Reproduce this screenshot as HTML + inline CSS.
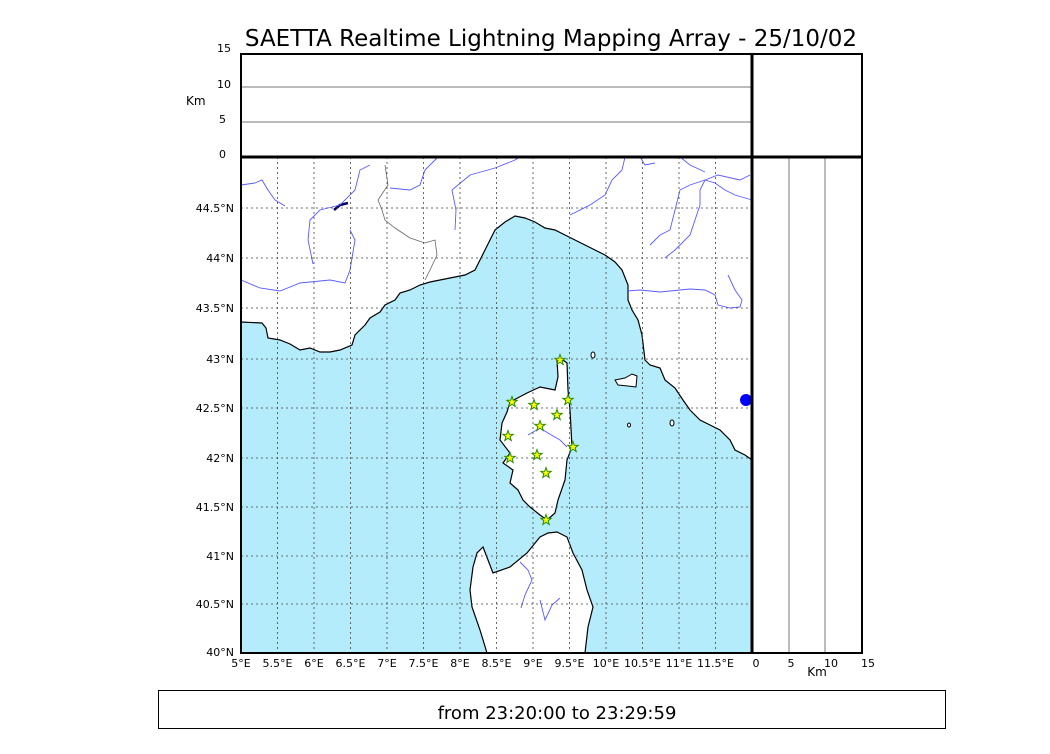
<!DOCTYPE html>
<html><head><meta charset="utf-8"><style>
body{margin:0;background:#fff;width:1050px;height:750px;overflow:hidden;font-family:"DejaVu Sans","Liberation Sans",sans-serif;}
svg text{font-family:"DejaVu Sans","Liberation Sans",sans-serif;}
</style></head><body>
<svg width="1050" height="750" viewBox="0 0 1050 750" xmlns="http://www.w3.org/2000/svg">
<rect width="1050" height="750" fill="#fff"/>
<text x="551" y="46" font-size="23" text-anchor="middle">SAETTA Realtime Lightning Mapping Array - 25/10/02</text>

<!-- top panel -->
<line x1="241" y1="87" x2="752" y2="87" stroke="#777" stroke-width="1"/>
<line x1="241" y1="122" x2="752" y2="122" stroke="#777" stroke-width="1"/>
<g font-size="11" text-anchor="end">
<text x="231" y="52">15</text><text x="231" y="88">10</text><text x="226" y="123">5</text><text x="226" y="158">0</text>
</g>
<text x="186" y="105" font-size="12">Km</text>

<!-- map -->
<rect x="241" y="157" width="511" height="496" fill="#b5ecfc"/>
<path d="M241,157 L241,322 L262,323 L266,328 L268,338 L280,340 L290,344 L300,350 L310,348 L320,352 L330,352 L340,350 L352,345 L355,335 L365,325 L370,318 L380,312 L385,305 L395,300 L400,293 L410,290 L420,285 L430,282 L440,280 L455,277 L465,275 L475,270 L480,260 L485,250 L490,240 L495,230 L505,222 L515,216 L525,218 L535,222 L545,228 L555,230 L565,235 L575,240 L585,245 L595,250 L605,255 L615,262 L622,270 L628,285 L628,300 L632,310 L638,320 L642,335 L645,360 L650,365 L660,368 L665,380 L675,388 L683,400 L690,410 L700,420 L710,425 L720,430 L730,440 L735,450 L745,455 L752,460 L752,157 Z" fill="#fff" stroke="#000" stroke-width="1.2"/>
<path d="M560,358 L567,363 L568,390 L570,410 L572,447 L567,460 L565,480 L558,500 L555,513 L547,520 L540,515 L530,507 L523,500 L518,490 L510,483 L513,470 L503,463 L510,453 L500,440 L502,423 L507,412 L510,402 L527,393 L540,387 L555,390 L558,377 L557,360 Z" fill="#fff" stroke="#000" stroke-width="1.2"/>
<path d="M548,533 L557,532 L567,537 L573,553 L582,570 L587,590 L593,607 L588,627 L585,653 L487,653 L480,630 L472,607 L470,590 L473,567 L477,553 L483,547 L493,573 L510,567 L527,553 L540,537 Z" fill="#fff" stroke="#000" stroke-width="1.2"/>
<path d="M615,380 L625,378 L632,374 L637,376 L636,387 L628,386 L618,385 Z" fill="#fff" stroke="#000"/>
<ellipse cx="593" cy="355" rx="2" ry="3" fill="#fff" stroke="#000"/>
<ellipse cx="629" cy="425" rx="1.5" ry="2" fill="#fff" stroke="#000"/>
<ellipse cx="672" cy="423" rx="2" ry="3" fill="#fff" stroke="#000"/>
<ellipse cx="746" cy="400" rx="6" ry="6" fill="#00f"/>
<path d="M334,210 L340,205 L348,203" stroke="#006" stroke-width="2.5" fill="none"/>
<g stroke="#5a5aff" stroke-width="0.9" fill="none">
<path d="M241,185 L255,183 L262,180 L268,190 L275,200 L285,206"/>
<path d="M241,280 L260,288 L280,291 L300,283 L330,280 L345,283 L350,270 L355,240 L350,230"/>
<path d="M313,264 L308,240 L310,220 L320,210 L340,205 L355,190 L360,170 L370,165"/>
<path d="M390,188 L410,190 L420,185 L425,170 L435,160 L438,157"/>
<path d="M455,230 L456,210 L452,190 L458,185 L470,175 L495,168 L515,160 L520,157"/>
<path d="M570,215 L590,205 L605,195 L612,180 L622,170 L625,157"/>
<path d="M640,157 L645,165 L655,163"/>
<path d="M650,245 L660,235 L670,230 L675,210 L680,190 L690,185 L705,180 L718,175 L740,180 L750,175"/>
<path d="M665,258 L675,250 L690,235 L695,220 L700,205 L700,190 L705,180 L715,183 L725,190 L735,195 L752,200"/>
<path d="M628,291 L640,290 L660,292 L690,289 L705,290 L715,295 L718,305 L730,308 L740,307 L742,300 L735,290 L728,275"/>
<path d="M680,157 L690,165 L705,172"/>
<path d="M528,435 L540,428 L548,433 L560,440 L567,447"/>
<path d="M520,562 L528,570 L532,580 L525,595 L521,608"/>
<path d="M540,600 L545,620 L552,605 L560,598"/>
</g>
<path d="M385,165 L388,185 L378,200 L382,210 L385,220 L395,228 L410,238 L425,243 L435,240 L437,255 L430,270 L425,280" stroke="#666" stroke-width="0.8" fill="none"/>
<g stroke="#444" stroke-width="0.8" stroke-dasharray="2,3">
<line x1="277.5" y1="157" x2="277.5" y2="653"/><line x1="314" y1="157" x2="314" y2="653"/><line x1="350.5" y1="157" x2="350.5" y2="653"/><line x1="387" y1="157" x2="387" y2="653"/><line x1="423.5" y1="157" x2="423.5" y2="653"/><line x1="460" y1="157" x2="460" y2="653"/><line x1="496.5" y1="157" x2="496.5" y2="653"/><line x1="533" y1="157" x2="533" y2="653"/><line x1="569.5" y1="157" x2="569.5" y2="653"/><line x1="606" y1="157" x2="606" y2="653"/><line x1="642.5" y1="157" x2="642.5" y2="653"/><line x1="679" y1="157" x2="679" y2="653"/><line x1="715.5" y1="157" x2="715.5" y2="653"/>
<line x1="241" y1="208" x2="752" y2="208"/><line x1="241" y1="258" x2="752" y2="258"/><line x1="241" y1="308" x2="752" y2="308"/><line x1="241" y1="359" x2="752" y2="359"/><line x1="241" y1="408" x2="752" y2="408"/><line x1="241" y1="458" x2="752" y2="458"/><line x1="241" y1="507" x2="752" y2="507"/><line x1="241" y1="556" x2="752" y2="556"/><line x1="241" y1="604" x2="752" y2="604"/><line x1="241" y1="653" x2="752" y2="653"/>
</g>
<defs><polygon id="st" points="0,-5.5 1.3,-1.8 5.2,-1.7 2.1,0.7 3.2,4.5 0,2.2 -3.2,4.5 -2.1,0.7 -5.2,-1.7 -1.3,-1.8" fill="#ffff00" stroke="#2a8a00" stroke-width="1"/></defs>
<use href="#st" x="560" y="360"/><use href="#st" x="512" y="402"/><use href="#st" x="534" y="405"/><use href="#st" x="568" y="400"/><use href="#st" x="557" y="415"/><use href="#st" x="540" y="426"/><use href="#st" x="508" y="436"/><use href="#st" x="573" y="447"/><use href="#st" x="537" y="455"/><use href="#st" x="510" y="458"/><use href="#st" x="546" y="473"/><use href="#st" x="546" y="520"/>

<line x1="789" y1="157" x2="789" y2="653" stroke="#777"/>
<line x1="825" y1="157" x2="825" y2="653" stroke="#777"/>

<rect x="241" y="54" width="621" height="599" fill="none" stroke="#000" stroke-width="2"/>
<line x1="241" y1="157" x2="862" y2="157" stroke="#000" stroke-width="3"/>
<line x1="752" y1="54" x2="752" y2="653" stroke="#000" stroke-width="3"/>

<g font-size="11" text-anchor="end">
<text x="234" y="212">44.5°N</text><text x="234" y="262">44°N</text><text x="234" y="312">43.5°N</text><text x="234" y="363">43°N</text><text x="234" y="412">42.5°N</text><text x="234" y="462">42°N</text><text x="234" y="511">41.5°N</text><text x="234" y="560">41°N</text><text x="234" y="608">40.5°N</text><text x="234" y="656">40°N</text>
</g>
<g font-size="11" text-anchor="middle">
<text x="241" y="667">5°E</text><text x="277.5" y="667">5.5°E</text><text x="314" y="667">6°E</text><text x="350.5" y="667">6.5°E</text><text x="387" y="667">7°E</text><text x="423.5" y="667">7.5°E</text><text x="460" y="667">8°E</text><text x="496.5" y="667">8.5°E</text><text x="533" y="667">9°E</text><text x="569.5" y="667">9.5°E</text><text x="606" y="667">10°E</text><text x="642.5" y="667">10.5°E</text><text x="679" y="667">11°E</text><text x="715.5" y="667">11.5°E</text>
<text x="756" y="667">0</text><text x="791" y="667">5</text><text x="831" y="667">10</text><text x="868" y="667">15</text>
</g>
<text x="817" y="676" font-size="12" text-anchor="middle">Km</text>

<rect x="158.5" y="690.5" width="787" height="38" fill="none" stroke="#000" stroke-width="1"/>
<text x="557" y="719" font-size="18" text-anchor="middle">from 23:20:00 to 23:29:59</text>
</svg>
</body></html>
